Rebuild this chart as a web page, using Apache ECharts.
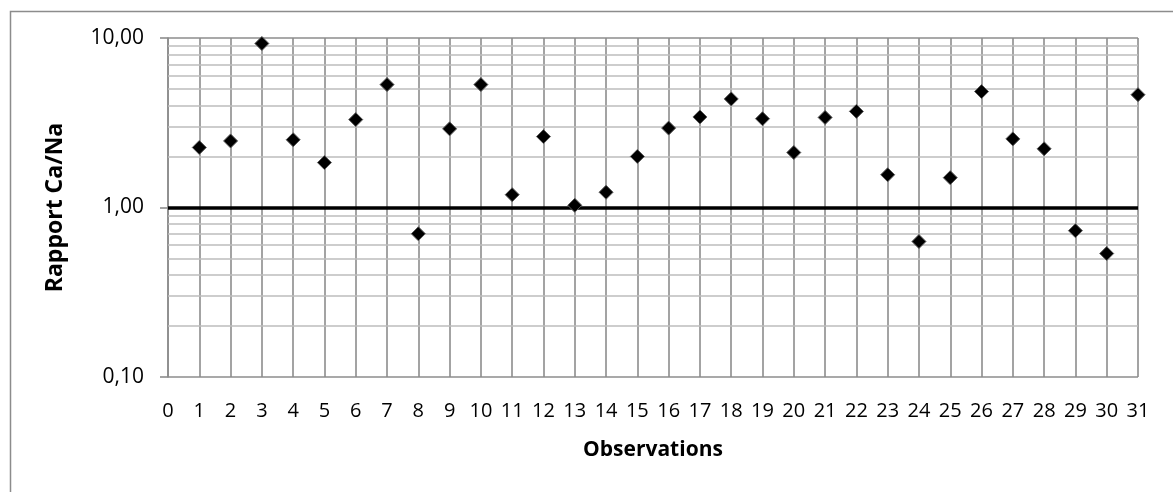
<!DOCTYPE html>
<html>
<head>
<meta charset="utf-8">
<script src="https://cdn.jsdelivr.net/npm/echarts@6/dist/echarts.min.js"></script>
<style>
html,body{margin:0;padding:0;background:#fff;}
#chart{width:1173px;height:492px;}
</style>
</head>
<body>
<div id="chart"></div>
<script>
const observations = [1,2,3,4,5,6,7,8,9,10,11,12,13,14,15,16,17,18,19,20,21,22,23,24,25,26,27,28,29,30,31];
const ratioCaNa = [2.26,2.47,9.28,2.51,1.84,3.30,5.31,0.70,2.91,5.31,1.19,2.62,1.03,1.23,2.00,2.94,3.42,4.37,3.34,2.11,3.40,3.69,1.56,0.63,1.50,4.83,2.54,2.22,0.73,0.535,4.63];
const minorGridValues = [0.2,0.3,0.4,0.5,0.6,0.7,0.8,0.9,2,3,4,5,6,7,8,9];
const referenceValue = 1;
const xTicks = {min:0, max:31, interval:1};
const yTicks = {min:0.1, max:10};

const FONT = "'Open Sans', 'Noto Sans', sans-serif";
const chart = echarts.init(document.getElementById('chart'), null, {renderer:'canvas'});
const points = observations.map((o,i)=>[o, ratioCaNa[i]]);

chart.setOption({
  animation:false,
  backgroundColor:'#fff',
  graphic:[{
    type:'rect', left:8, top:9, z:0,
    shape:{width:1300, height:600},
    style:{fill:'none', stroke:'#8c8c8c', lineWidth:1.5}
  }],
  grid:{left:168, right:35, top:38, height:339, containLabel:false},
  xAxis:{
    type:'value', min:xTicks.min, max:xTicks.max, interval:xTicks.interval,
    name:'Observations', nameLocation:'middle', nameGap:63,
    nameTextStyle:{fontFamily:FONT, fontWeight:'bold', fontSize:21, color:'#000'},
    axisLine:{show:false}, axisTick:{show:false},
    axisLabel:{fontFamily:FONT, fontSize:20, color:'#000', margin:24},
    splitLine:{show:true, lineStyle:{color:'#8c8c8c', width:1.6}}
  },
  yAxis:{
    type:'log', logBase:10, min:yTicks.min, max:yTicks.max,
    name:'Rapport Ca/Na', nameLocation:'middle', nameGap:101,
    nameTextStyle:{fontFamily:FONT, fontWeight:'bold', fontSize:23, color:'#000'},
    axisLine:{show:true, lineStyle:{color:'#8c8c8c', width:1.6}},
    axisTick:{show:true, length:8, lineStyle:{color:'#8c8c8c', width:1.6}},
    axisLabel:{fontFamily:FONT, fontSize:21, color:'#000', margin:24,
      formatter:v=>v.toFixed(2).replace('.',',')},
    splitLine:{show:true, lineStyle:{color:'#8c8c8c', width:1.6}},
    minorTick:{show:false}, minorSplitLine:{show:false}
  },
  series:[
    {
      type:'scatter', data:[], z:1, silent:true,
      markLine:{
        silent:true, symbol:['none','none'], label:{show:false},
        animation:false,
        lineStyle:{color:'#bcbcbc', width:1.6, type:'solid'},
        data:minorGridValues.map(v=>({yAxis:v}))
      }
    },
    {
      type:'scatter', data:[], z:2, silent:true,
      markLine:{
        silent:true, symbol:['none','none'], label:{show:false},
        animation:false,
        lineStyle:{color:'#000', width:3.5, type:'solid'},
        data:[{yAxis:referenceValue}]
      }
    },
    {
      type:'scatter', data:points, z:5,
      symbol:'diamond', symbolSize:[14,14],
      itemStyle:{color:'#000', borderColor:'#5a5a5a', borderWidth:1, opacity:1}
    }
  ]
});
</script>
</body>
</html>
